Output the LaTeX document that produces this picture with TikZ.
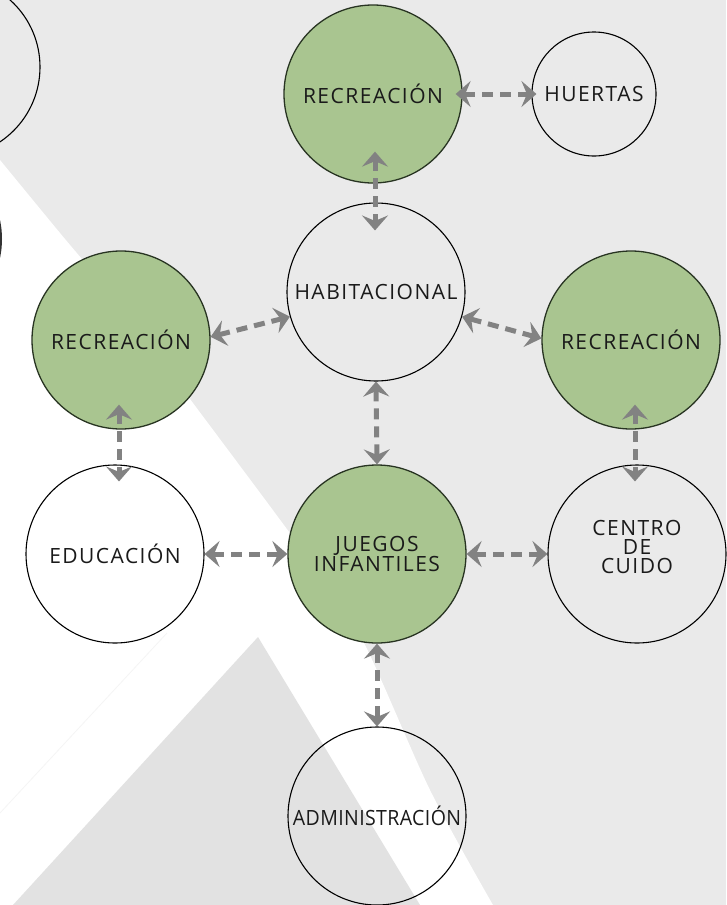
\documentclass[tikz,border=0pt]{standalone}
\usepackage{fontspec}
\newfontfamily\lab[LetterSpace=7]{Open Sans}
\newfontfamily\labtight[LetterSpace=2]{Open Sans}
\usetikzlibrary{arrows.meta}
\definecolor{bggray}{RGB}{234,234,234}
\definecolor{trigray}{RGB}{226,226,226}
\definecolor{faint}{RGB}{245,245,245}
\definecolor{green}{RGB}{169,197,144}
\definecolor{gedge}{RGB}{40,52,34}
\definecolor{argray}{RGB}{130,130,130}
\definecolor{txt}{RGB}{26,26,26}
\tikzset{
  circbase/.style={circle, inner sep=0pt, minimum size=178pt, align=center,
    text=txt, font=\lab\fontsize{21}{19}\selectfont},
  wcirc/.style={circbase, draw=black, line width=1.1pt},
  gcirc/.style={circbase, draw=gedge, line width=1.3pt, fill=green},
  tipshape/.tip={Stealth[length=15pt,width=26pt,inset=5.5pt]},
  conn/.style={draw=argray, line width=5pt, dash pattern=on 11pt off 7pt,
    tipshape-tipshape}
}
\begin{document}
\begin{tikzpicture}[x=1pt,y=-1pt]
\useasboundingbox (0,0) rectangle (726,905);
% background
\fill[bggray] (0,0) rectangle (726,905);
\fill[white] plot[smooth] coordinates {(0,160) (60,233) (120,305) (187,395) (300,547) (360,635) (430,790) (493,905)} -- (0,905) -- cycle;
\draw[faint, line width=0.8pt] (0,813) -- (167,633);
\fill[trigray] (258,637) -- (420,905) -- (13,905) -- cycle;
\begin{scope}
\clip (0,0) rectangle (726,905);
\draw[black, line width=1.1pt] (-50,67) circle[radius=90];
\draw[black!80, line width=2pt] (-89,239) circle[radius=90];
\end{scope}
% nodes
\node[gcirc] (tr) at (373,94) {RECREACIÓN};
\node[wcirc, minimum size=124pt] (hue) at (594,94) {HUERTAS};
\node[wcirc] (hab) at (376,292) {HABITACIONAL};
\node[gcirc] (lr) at (121,340) {RECREACIÓN};
\node[gcirc] (rr) at (631,340) {RECREACIÓN};
\node[wcirc] (edu) at (115,554) {EDUCACIÓN};
\node[gcirc] (jue) at (377,554) {JUEGOS\\INFANTILES};
\node[wcirc] (cen) at (637,554) {CENTRO\\DE\\CUIDO\\[-4pt]\mbox{}};
\node[wcirc] (adm) at (377,816) {\scalebox{0.93}[1]{\labtight ADMINISTRACIÓN}};
% connectors
\draw[conn] ([xshift=-7pt]tr.east) -- ([xshift=5pt]hue.west);
\draw[conn] ([xshift=2pt,yshift=32pt]tr.south) -- ([xshift=-1pt,yshift=-28pt]hab.north);
\draw[conn] (lr.2) -- (hab.196);
\draw[conn] (hab.-16) -- (rr.179);
\draw[conn] (hab.south) -- (jue.north);
\draw[conn] ([xshift=-2pt,yshift=25pt]lr.south) -- ([xshift=4pt,yshift=-17pt]edu.north);
\draw[conn] ([xshift=4pt,yshift=25pt]rr.south) -- ([xshift=-2pt,yshift=-17pt]cen.north);
\draw[conn] (edu.east) -- (jue.west);
\draw[conn] (jue.east) -- (cen.west);
\draw[conn] (jue.south) -- (adm.north);
\end{tikzpicture}
\end{document}
